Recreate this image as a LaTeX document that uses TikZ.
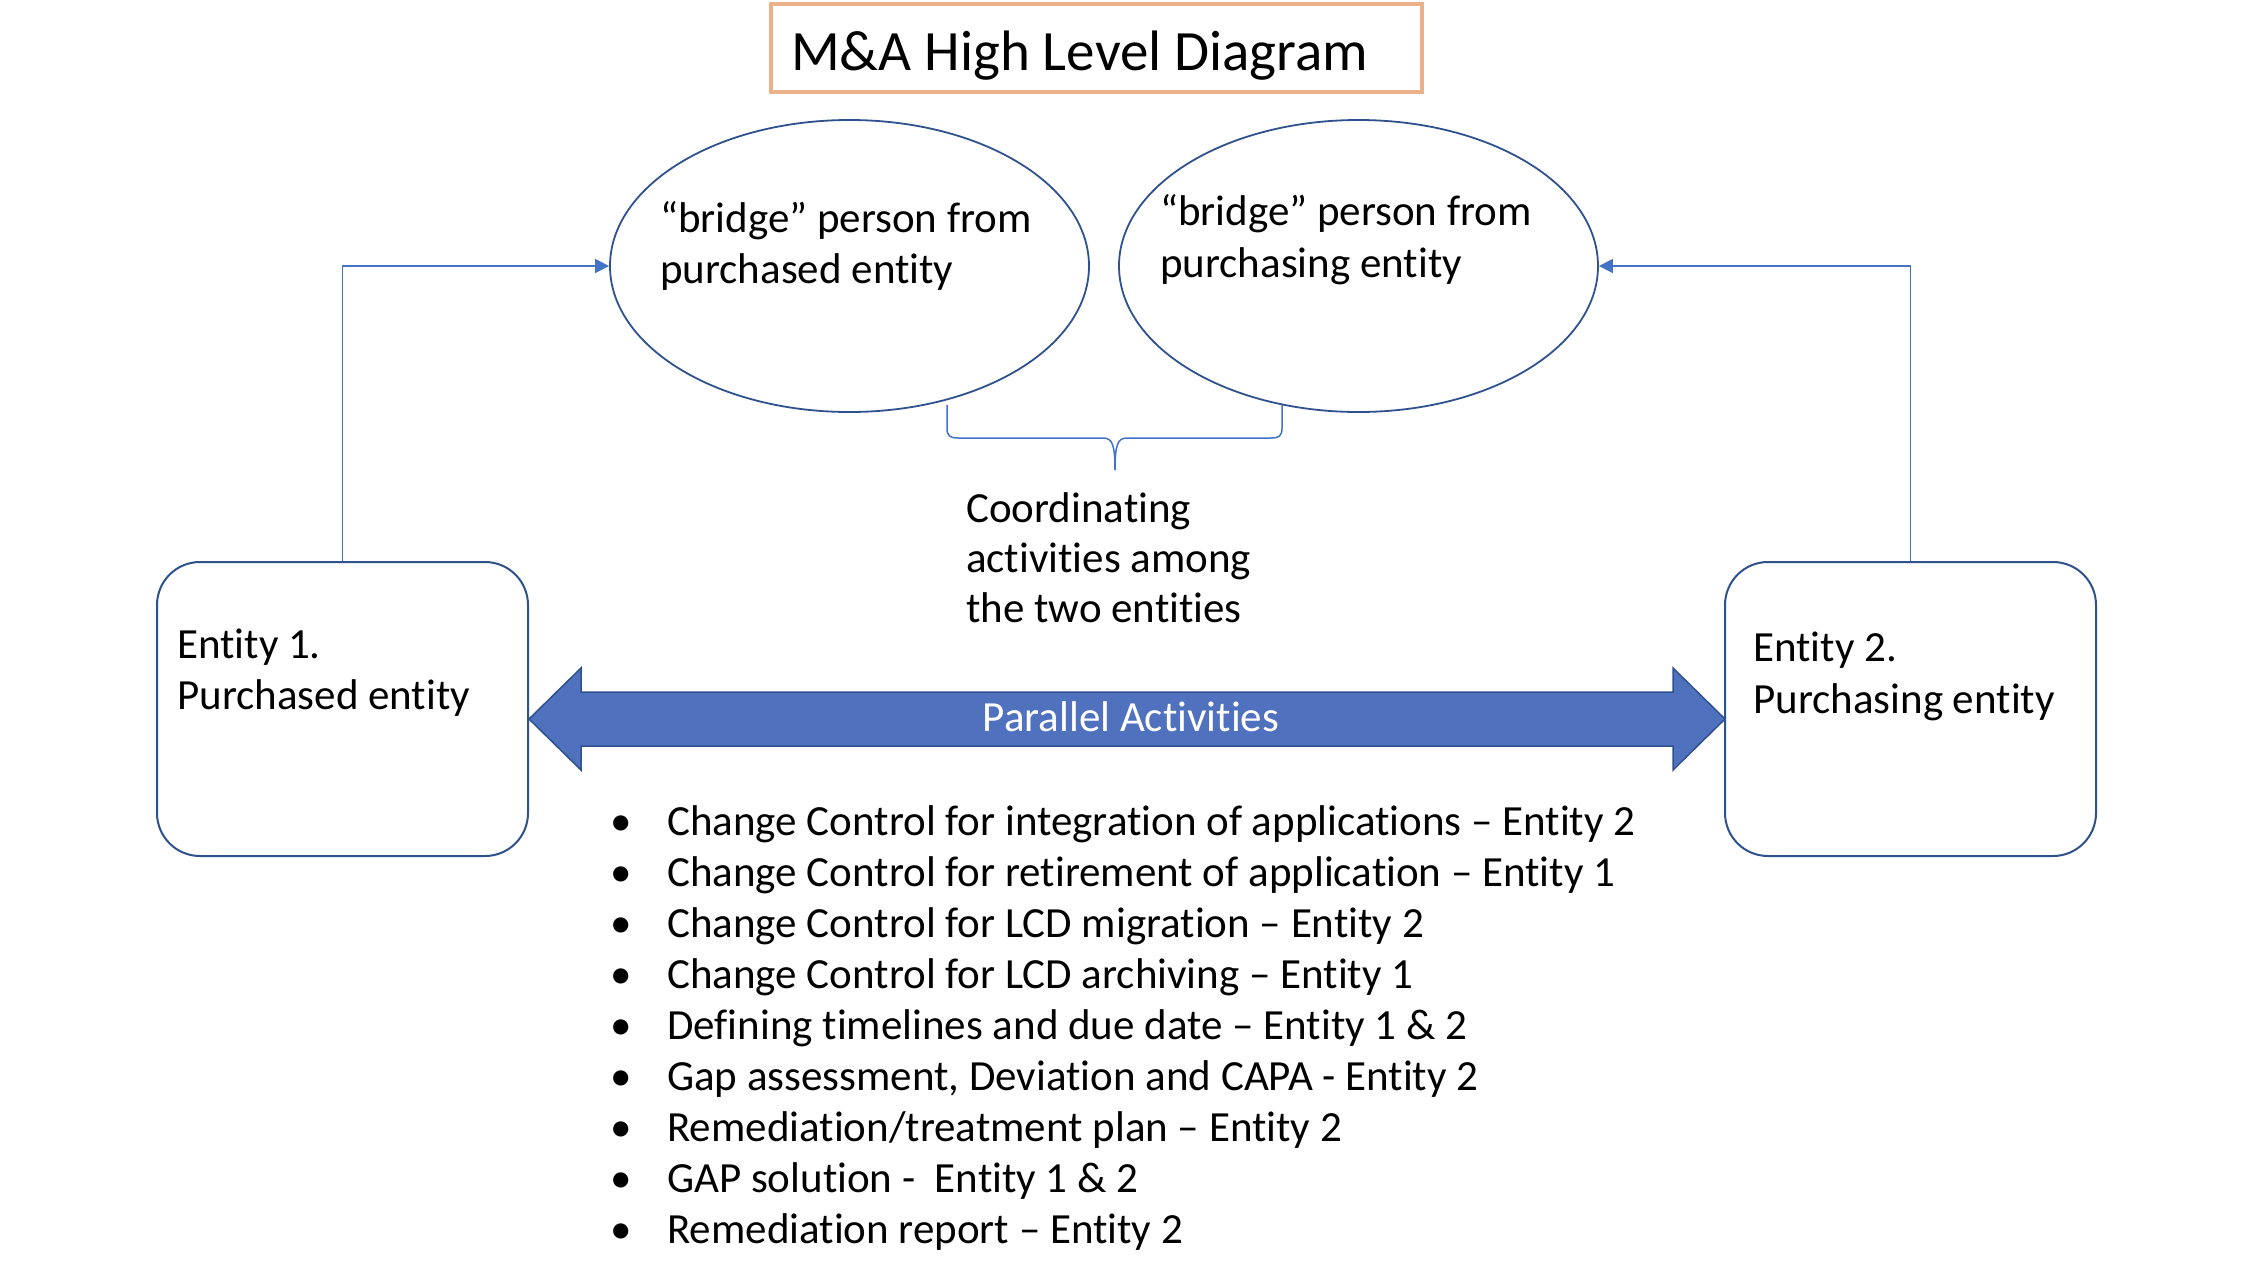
\documentclass[tikz,border=0pt]{standalone}
\usepackage{fontspec}
\setmainfont{Carlito}[Ligatures={NoCommon}]
\usetikzlibrary{shapes.geometric,arrows.meta}
\definecolor{dblue}{HTML}{2F528F}
\definecolor{mblue}{HTML}{4472C4}
\definecolor{afill}{HTML}{4F71BE}
\definecolor{orng}{HTML}{EBB28A}
\begin{document}
\begin{tikzpicture}[x=1pt,y=-1pt,
  txt/.style={font=\fontsize{43}{51}\selectfont, inner sep=0pt, anchor=base west},
  bul/.style={font=\fontsize{43}{51}\selectfont, inner sep=0pt, anchor=base},
  bridge/.style={ellipse, draw=dblue, line width=1.8pt, minimum width=479pt, minimum height=292pt, inner sep=0pt},
  entity/.style={draw=dblue, line width=2pt, rounded corners=43pt, minimum width=371pt, minimum height=294pt, inner sep=0pt},
  conn/.style={draw=mblue, line width=1.5pt, -{Triangle[length=14pt,width=14pt]}},
  bracel/.style={draw=mblue, line width=1.5pt}
]
\useasboundingbox (0,0) rectangle (2268,1280);
\fill[white] (0,0) rectangle (2268,1280);

% title
\node[draw=orng, line width=4.5pt, minimum width=651pt, minimum height=88pt, inner sep=0pt] (tbox) at (1096.5,48) {};
\node[font=\fontsize{57}{68}\selectfont, inner sep=0pt, anchor=base west] (title) at (791,70) {M\&A High Level Diagram};

% bridge ellipses
\node[bridge] (b1) at (849.5,266) {};
\node[bridge] (b2) at (1358.5,266) {};
\node[txt] (b1a) at (660,232) {“bridge” person from};
\node[txt] (b1b) at (660,283) {purchased entity};
\node[txt] (b2a) at (1160,225) {“bridge” person from};
\node[txt] (b2b) at (1160,277) {purchasing entity};

% brace
\draw[bracel] (947,405) -- (947,428) .. controls (947,436) and (950,438) .. (958,438) -- (1103,438) .. controls (1112,438) and (1115,444) .. (1115,470);
\draw[bracel] (1282,405) -- (1282,428) .. controls (1282,436) and (1279,438) .. (1271,438) -- (1127,438) .. controls (1118,438) and (1115,444) .. (1115,470);

\node[txt] (c1) at (966,522) {Coordinating};
\node[txt] (c2) at (966,572) {activities among};
\node[txt] (c3) at (966,622) {the two entities};

% entity boxes
\node[entity] (e1) at (342.5,709) {};
\node[entity] (e2) at (1910.5,709) {};
\node[txt] (e1a) at (177,658) {Entity 1.};
\node[txt] (e1b) at (177,709) {Purchased entity};
\node[txt] (e2a) at (1753,661) {Entity 2.};
\node[txt] (e2b) at (1753,713) {Purchasing entity};

% connectors
\draw[conn] (e1.north) |- (b1.west);
\draw[conn] (e2.north) |- (b2.east);

% double arrow
\filldraw[fill=afill, draw=dblue, line width=1.5pt, line join=miter]
  (529,719) -- (581,668) -- (581,692) -- (1673,692) -- (1673,668) -- (1725,719)
  -- (1673,770) -- (1673,746) -- (581,746) -- (581,770) -- cycle;
\node[font=\fontsize{43}{51}\selectfont, text=white, inner sep=0pt, anchor=base] (par) at (1131,731) {Parallel Activities};

% bullet list
\foreach \t [count=\i] in {
  Change Control for integration of applications – Entity 2,
  Change Control for retirement of application – Entity 1,
  Change Control for LCD migration – Entity 2,
  Change Control for LCD archiving – Entity 1,
  Defining timelines and due date – Entity 1 \& 2,
  {Gap assessment, Deviation and CAPA - Entity 2},
  Remediation/treatment plan – Entity 2,
  GAP solution -\ \ Entity 1 \& 2,
  Remediation report – Entity 2}
{
  \node[bul] (d\i) at (621,{835+51*(\i-1)}) {•};
  \node[txt] (l\i) at (667,{835+51*(\i-1)}) {\t};
}
\end{tikzpicture}
\end{document}
